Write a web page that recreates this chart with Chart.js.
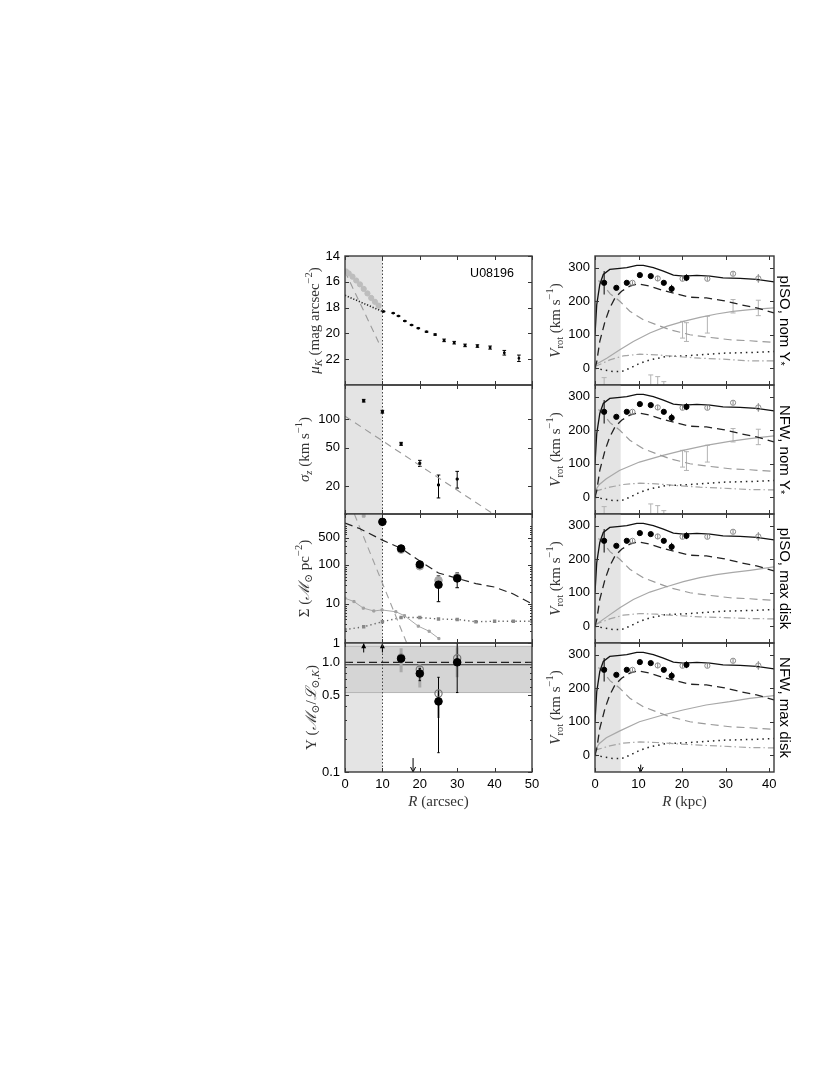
<!DOCTYPE html>
<html>
<head>
<meta charset="utf-8">
<script src="https://cdn.jsdelivr.net/npm/chart.js@4.4.0/dist/chart.umd.min.js"></script>
<style>
html, body { margin: 0; padding: 0; background: #fff; }
body { width: 830px; height: 1075px; position: relative; overflow: hidden; }
canvas { position: absolute; }
</style>
</head>
<body>
<canvas id="mu"></canvas>
<canvas id="sig"></canvas>
<canvas id="sd"></canvas>
<canvas id="ups"></canvas>
<canvas id="rotA"></canvas>
<canvas id="rotB"></canvas>
<canvas id="rotC"></canvas>
<canvas id="rotD"></canvas>
<script>
// ---- surface brightness (arcsec, mag/arcsec^2)
var muR = [10.3, 12.9, 14.3, 16.0, 17.8, 19.6, 21.8, 24.1, 26.5, 29.2, 32.1, 35.4, 38.8, 42.6, 46.5];
var mu = [18.3, 18.43, 18.65, 19.04, 19.35, 19.6, 19.87, 20.09, 20.54, 20.72, 20.93, 20.98, 21.1, 21.5, 21.93];
var muErr = [0.02, 0.02, 0.02, 0.03, 0.03, 0.03, 0.04, 0.05, 0.1, 0.1, 0.1, 0.1, 0.12, 0.18, 0.25];
var muInnerR = [0.3, 1, 2, 3, 4, 5, 6, 7, 8, 9];
var muInner = [15.2, 15.35, 15.6, 15.9, 16.2, 16.55, 16.9, 17.25, 17.55, 17.85];
var muDiskR = [0, 10];
var muDisk = [17.05, 18.3];
var muBulgeR = [0, 9];
var muBulge = [15.2, 20.7];

// ---- vertical velocity dispersion
var sigR = [5, 10, 15, 20, 25, 30];
var sig = [155, 119, 55, 34.5, 20.5, 23.6];
var sigLo = [150, 115, 53, 32, 15, 19];
var sigHi = [160, 123, 57, 37, 26, 28.4];
var sigFitR = [0, 40];
var sigFit = [107, 10];

// ---- mass surface density
var sdR = [10, 15, 20, 25, 30];
var sd = [1260, 262, 102, 31, 45];
var sdLo = [1180, 240, 88, 11.4, 26];
var sdHi = [1340, 290, 118, 52, 62];
var sdAltR = [15, 20, 25, 30];
var sdAlt = [245, 92, 40, 48];
var sdDiskR = [0, 4, 10, 15, 20, 25, 30, 35, 40, 45, 50];
var sdDisk = [1170, 840, 430, 265, 125, 62, 45, 33, 27, 18, 10];
var sdBulgeR = [2.5, 16.5];
var sdBulge = [2000, 1];
var sdStarR = [0, 2.4, 4.9, 7.7, 9.9, 13.6, 15.9, 19.6, 22.5, 25.1];
var sdStar = [14, 11.5, 7.8, 6.6, 7.0, 6.3, 5.0, 2.7, 2.0, 1.3];
var sdGasR = [0, 5, 10, 15, 20, 25, 30, 35, 40, 45, 50];
var sdGas = [2.2, 2.6, 3.5, 4.5, 4.5, 4.1, 4.0, 3.5, 3.6, 3.6, 3.6];
var sdTopR = [5];
var sdTop = [1800];

// ---- mass-to-light ratio
var upsR = [15, 20, 25, 30];
var ups = [1.08, 0.79, 0.44, 1.0];
var upsLo = [1.02, 0.68, 0.15, 0.53];
var upsHi = [1.14, 0.88, 0.73, 1.5];
var upsAlt = [1.1, 0.86, 0.52, 1.09];
var upsAltLo = [0.81, 0.59, 0.31, 0.73];
var upsAltHi = [1.34, 0.96, 0.55, 1.37];
var upsBand = [0.53, 1.4];
var upsNominal = 1.0;
var upsFit = 0.95;
var upsLimitR = [5, 10];
var upsLimitY = [1.23, 1.49];
var upsArrowR = 18.2;
var upsArrowY = [0.134, 0.1];

// ---- rotation curves (kpc, km/s)
var rcR = [2.1, 4.9, 7.3, 10.3, 12.8, 15.8, 17.6, 21.0];
var rcV = [255, 240, 255, 278, 275, 255, 237, 270];
var rcE = [35, 4, 4, 4, 4, 4, 12, 10];
var rcOpenR = [8.6, 14.4, 20.1, 25.8, 31.7, 37.5];
var rcOpenV = [255, 268, 267, 267, 282, 268];
var rcOpenE = [5, 8, 6, 6, 6, 13];
var haloPtR = [2.1, 12.8, 14.4, 15.8, 20.1, 21.0, 25.8, 31.7, 37.5];
var haloPtV = [-60, -60, -65, -70, 115, 108, 130, 185, 180];
var haloPtE = [32, 40, 40, 30, 25, 28, 25, 20, 23];
var totR = [0, 0.4, 1.1, 1.9, 3.4, 5.7, 7.3, 9.6, 11.1, 13.4, 15.7, 18, 20.3, 23.4, 26.4, 29.4, 33.3, 37.1, 41.1];
var totV = [100, 190, 250, 280, 295, 298, 300, 307, 307, 300, 290, 278, 275, 277, 275, 270, 268, 265, 258];
var diskR = [0, 0.4, 1.1, 2.3, 3.4, 4.6, 6.1, 8, 9.9, 12.6, 15.7, 18.7, 21.8, 25.6, 29.4, 33.3, 37.1, 41.1];
var diskV = [0, 20, 80, 140, 180, 210, 230, 245, 252, 245, 232, 222, 212, 210, 202, 190, 180, 165];
var bulgeR = [0.8, 2.1, 3.5, 5.7, 8, 11.1, 14.1, 17.2, 21.8, 26.4, 31, 35.6, 41.1];
var bulgeV = [262, 245, 222, 200, 170, 145, 130, 115, 100, 92, 85, 82, 77];
var gasR = [0, 1.9, 4.2, 6.1, 8, 10.3, 12.6, 16.4, 20.3, 24.1, 29.4, 35.6, 41.1];
var gasV = [0, -5, -10, -10, 0, 15, 25, 35, 37, 40, 45, 47, 50];
var ddR = [0, 3.4, 6.5, 10.3, 14.1, 18.7, 24.1, 29.4, 35.6, 41.1];
var ddA = [5, 25, 37, 42, 40, 35, 30, 27, 22, 22];
var ddB = [18, 30, 38, 42, 40, 35, 30, 27, 23, 22];
var ddC = [5, 22, 33, 38, 36, 32, 28, 26, 23, 22];
var ddD = [15, 28, 36, 40, 38, 34, 30, 27, 23, 22];
var isoR = [0, 2.7, 5.7, 8.8, 12.6, 16.4, 20.3, 24.1, 27.9, 31.7, 35.6, 41.1];
var isoA = [10, 30, 55, 80, 105, 125, 140, 152, 162, 170, 175, 180];
var isoC = [3, 28, 55, 80, 102, 118, 133, 145, 154, 161, 167, 177];
var nfwR = [0, 1, 2.6, 5.6, 10.2, 15.6, 20.2, 25.5, 30.9, 35.5, 41.1];
var nfwB = [18, 38, 55, 80, 105, 125, 140, 155, 167, 175, 183];
var nfwD = [15, 35, 52, 72, 100, 120, 135, 150, 160, 170, 178];
var rotArrowR = 10.5;
var rotArrowY = [-28, -50];

// ---- ticks
var xTicksArcsec = [0, 10, 20, 30, 40, 50];
var xTicksKpc = [0, 10, 20, 30, 40];
var muTicks = [14, 16, 18, 20, 22];
var sigTicks = [20, 50, 100];
var sdTicks = [1, 10, 100, 500];
var sdMinor = [2, 3, 4, 5, 6, 7, 8, 9, 20, 30, 40, 50, 60, 70, 80, 90, 200, 300, 400, 600, 700, 800, 900, 1000, 2000];
var upsTicks = [0.1, 0.5, 1.0];
var upsLabels = ['0.1', '0.5', '1.0'];
var upsMinor = [0.2, 0.3, 0.4, 0.6, 0.7, 0.8, 0.9];
var vTicks = [0, 100, 200, 300];

var SANS = '"Liberation Sans", Arial, sans-serif';
var SERIF = '"Liberation Serif", "DejaVu Serif", serif';
var SHADE = '#e4e4e4';

function zip(xs, ys) {
    return xs.map(function (x, i) { return { x: x, y: ys[i] }; });
}

function line(xs, ys, color, width, dash) {
    return { data: zip(xs, ys), showLine: true, borderColor: color, borderWidth: width,
        borderDash: dash || [], pointRadius: 0, fill: false, tension: 0 };
}

function pts(xs, ys, style, r, fill, stroke, bw) {
    return { data: zip(xs, ys), showLine: false, pointStyle: style, pointRadius: r,
        backgroundColor: fill, borderColor: stroke, borderWidth: bw || 1 };
}

// text with sub/superscripts, centred on (x, y)
function drawRich(ctx, segs, x, y, rot, size, family, color) {
    ctx.save();
    ctx.translate(x, y);
    ctx.rotate(rot);
    ctx.fillStyle = color;
    ctx.textBaseline = 'middle';
    ctx.textAlign = 'left';
    var parts = segs.map(function (s) {
        var fs = (s.sub || s.sup) ? size * 0.7 : size;
        var font = (s.it ? 'italic ' : '') + fs + 'px ' + family;
        ctx.font = font;
        return { t: s.t, font: font, w: ctx.measureText(s.t).width,
            dy: s.sub ? size * 0.3 : (s.sup ? -size * 0.38 : 0) };
    });
    var total = parts.reduce(function (a, p) { return a + p.w; }, 0);
    var cx = -total / 2;
    parts.forEach(function (p) {
        ctx.font = p.font;
        ctx.fillText(p.t, cx, p.dy);
        cx += p.w;
    });
    ctx.restore();
}

function makeDeco(d) {
    return {
        id: 'deco',
        beforeDatasetsDraw: function (chart) {
            var ctx = chart.ctx, a = chart.chartArea, xs = chart.scales.x, ys = chart.scales.y;
            ctx.save();
            ctx.beginPath();
            ctx.rect(a.left, a.top, a.width, a.height);
            ctx.clip();
            (d.xBands || []).forEach(function (b) {
                var x1 = xs.getPixelForValue(b[0]), x2 = xs.getPixelForValue(b[1]);
                ctx.fillStyle = b[2];
                ctx.fillRect(x1, a.top, x2 - x1, a.height);
            });
            (d.yBands || []).forEach(function (b) {
                var y1 = ys.getPixelForValue(b[0]), y2 = ys.getPixelForValue(b[1]);
                ctx.fillStyle = b[2];
                ctx.fillRect(a.left, Math.min(y1, y2), a.width, Math.abs(y2 - y1));
                ctx.strokeStyle = '#b5b5b5';
                ctx.lineWidth = 1;
                ctx.beginPath();
                ctx.moveTo(a.left, y1); ctx.lineTo(a.right, y1);
                ctx.moveTo(a.left, y2); ctx.lineTo(a.right, y2);
                ctx.stroke();
            });
            (d.vLines || []).forEach(function (l) {
                var x = Math.round(xs.getPixelForValue(l.x)) + 0.5;
                ctx.strokeStyle = l.color; ctx.lineWidth = l.width; ctx.setLineDash(l.dash || []);
                ctx.beginPath(); ctx.moveTo(x, a.top); ctx.lineTo(x, a.bottom); ctx.stroke();
            });
            (d.hLines || []).forEach(function (l) {
                var y = ys.getPixelForValue(l.y);
                ctx.strokeStyle = l.color; ctx.lineWidth = l.width; ctx.setLineDash(l.dash || []);
                ctx.beginPath(); ctx.moveTo(a.left, y); ctx.lineTo(a.right, y); ctx.stroke();
            });
            ctx.setLineDash([]);
            (d.errors || []).forEach(function (e) {
                ctx.strokeStyle = e.color;
                ctx.lineWidth = e.width;
                ctx.beginPath();
                e.x.forEach(function (xv, i) {
                    var lo = e.lo ? e.lo[i] : e.y[i] - e.err[i];
                    var hi = e.hi ? e.hi[i] : e.y[i] + e.err[i];
                    var x = xs.getPixelForValue(xv), y1 = ys.getPixelForValue(lo), y2 = ys.getPixelForValue(hi);
                    ctx.moveTo(x, y1); ctx.lineTo(x, y2);
                    if (e.cap) {
                        ctx.moveTo(x - e.cap, y1); ctx.lineTo(x + e.cap, y1);
                        ctx.moveTo(x - e.cap, y2); ctx.lineTo(x + e.cap, y2);
                    }
                });
                ctx.stroke();
            });
            ctx.restore();
        },
        afterDatasetsDraw: function (chart) {
            var ctx = chart.ctx, a = chart.chartArea, xs = chart.scales.x, ys = chart.scales.y;
            ctx.save();
            // arrows
            (d.arrows || []).forEach(function (ar) {
                var x = xs.getPixelForValue(ar.x), y1 = ys.getPixelForValue(ar.from), y2 = ys.getPixelForValue(ar.to);
                var dir = y2 > y1 ? 1 : -1;
                ctx.strokeStyle = '#000'; ctx.fillStyle = '#000'; ctx.lineWidth = 1;
                ctx.beginPath(); ctx.moveTo(x, y1); ctx.lineTo(x, y2); ctx.stroke();
                ctx.beginPath();
                ctx.moveTo(x - 2.5, y2 - dir * 5);
                ctx.lineTo(x, y2);
                ctx.lineTo(x + 2.5, y2 - dir * 5);
                if (ar.fill) { ctx.closePath(); ctx.fill(); } else { ctx.stroke(); }
            });
            // inward ticks on all sides
            ctx.strokeStyle = '#333';
            ctx.lineWidth = 1;
            ctx.beginPath();
            function xt(v, len) {
                var x = Math.round(xs.getPixelForValue(v)) + 0.5;
                ctx.moveTo(x, a.bottom); ctx.lineTo(x, a.bottom - len);
                ctx.moveTo(x, a.top); ctx.lineTo(x, a.top + len);
            }
            function yt(v, len) {
                var y = Math.round(ys.getPixelForValue(v)) + 0.5;
                ctx.moveTo(a.left, y); ctx.lineTo(a.left + len, y);
                ctx.moveTo(a.right, y); ctx.lineTo(a.right - len, y);
            }
            d.xTicks.forEach(function (v) { xt(v, 4); });
            d.yTicks.forEach(function (v) { yt(v, 4); });
            (d.yMinor || []).forEach(function (v) { yt(v, 2); });
            ctx.stroke();
            // frame
            ctx.strokeStyle = '#3a3a3a';
            ctx.lineWidth = 1.4;
            ctx.strokeRect(a.left, a.top, a.width, a.height);
            // titles
            if (d.yTitle) {
                drawRich(ctx, d.yTitle, a.left - d.yTitleOff, (a.top + a.bottom) / 2, -Math.PI / 2, 15, SERIF, '#333');
            }
            if (d.xTitle) {
                drawRich(ctx, d.xTitle, (a.left + a.right) / 2, a.bottom + 30, 0, 15, SERIF, '#333');
            }
            if (d.side) {
                drawRich(ctx, d.side, a.right + 10, (a.top + a.bottom) / 2, Math.PI / 2, 15, SANS, '#000');
            }
            if (d.tag) {
                ctx.fillStyle = '#000';
                ctx.font = '12.5px ' + SANS;
                ctx.textAlign = 'center';
                ctx.textBaseline = 'middle';
                ctx.fillText(d.tag, a.left + 147, a.top + 18);
            }
            ctx.restore();
        }
    };
}

function axis(type, min, max, ticks, labels, show, width, height, reverse) {
    return {
        type: type, min: min, max: max, reverse: !!reverse,
        grid: { display: false, drawTicks: false },
        border: { display: false },
        afterBuildTicks: function (s) { s.ticks = ticks.map(function (v) { return { value: v }; }); },
        afterFit: function (s) {
            if (width !== null) s.width = width;
            if (height !== null) s.height = height;
        },
        ticks: {
            display: show, autoSkip: false, maxRotation: 0, minRotation: 0, padding: 5, color: '#000',
            font: { family: SANS, size: 13 },
            callback: function (v, i) { return labels[i]; }
        }
    };
}

var YW = 80, PT = 16, PR = 32;

function makePanel(id, box, xSpec, ySpec, datasets, deco) {
    var XH = deco.xTitle ? 46 : 16;
    var c = document.getElementById(id);
    c.width = YW + box.w + PR;
    c.height = PT + box.h + XH;
    c.style.left = (box.x - YW) + 'px';
    c.style.top = (box.y - PT) + 'px';
    new Chart(c.getContext('2d'), {
        type: 'scatter',
        data: { datasets: datasets },
        options: {
            responsive: false,
            animation: false,
            devicePixelRatio: 1,
            events: [],
            layout: { padding: { top: PT, right: PR, left: 0, bottom: 0 } },
            plugins: { legend: { display: false }, tooltip: { enabled: false } },
            scales: {
                x: axis('linear', xSpec.min, xSpec.max, xSpec.ticks, xSpec.ticks.map(String), !!deco.xTitle, null, XH),
                y: axis(ySpec.type, ySpec.min, ySpec.max, ySpec.ticks, ySpec.labels, true, YW, null, ySpec.reverse)
            }
        },
        plugins: [makeDeco(deco)]
    });
}

var LX = 345, LW = 187, RX = 595, RW = 179;
var rowY = [256, 385, 514, 643], RH = 129;
var xArc = { min: 0, max: 50, ticks: xTicksArcsec };
var xKpc = { min: 0, max: 41.1, ticks: xTicksKpc };
var leftShade = [0, 10, SHADE];
var leftVLine = { x: 10, color: '#444', width: 1, dash: [1.5, 2] };

// panel 1: surface brightness
makePanel('mu', { x: LX, y: rowY[0], w: LW, h: RH }, xArc,
    { type: 'linear', min: 14, max: 24, ticks: muTicks, labels: muTicks.map(String), reverse: true },
    [
        pts(muR, mu, 'rect', 1.1, '#000', '#000'),
        pts(muInnerR, muInner, 'circle', 2.6, '#bdbdbd', '#bdbdbd'),
        line(muDiskR, muDisk, '#222', 1.6, [1.2, 1.8]),
        line(muBulgeR, muBulge, '#9a9a9a', 1.1, [7, 5])
    ],
    {
        xBands: [leftShade], vLines: [leftVLine], xTicks: xTicksArcsec, yTicks: muTicks,
        errors: [{ x: muR, y: mu, err: muErr, color: '#000', width: 1, cap: 1.8 }],
        yTitle: [{ t: 'μ', it: 1 }, { t: 'K', it: 1, sub: 1 }, { t: ' (mag arcsec' }, { t: '−2', sup: 1 }, { t: ')' }],
        yTitleOff: 30, tag: 'U08196'
    });

// panel 2: velocity dispersion
makePanel('sig', { x: LX, y: rowY[1], w: LW, h: RH }, xArc,
    { type: 'logarithmic', min: 10.2, max: 226, ticks: sigTicks, labels: sigTicks.map(String) },
    [
        pts(sigR, sig, 'rect', 1.4, '#000', '#000'),
        line(sigFitR, sigFit, '#9a9a9a', 1.1, [7, 5])
    ],
    {
        xBands: [leftShade], vLines: [leftVLine], xTicks: xTicksArcsec, yTicks: sigTicks,
        errors: [{ x: sigR, lo: sigLo, hi: sigHi, color: '#000', width: 1, cap: 1.8 }],
        yTitle: [{ t: 'σ', it: 1 }, { t: 'z', it: 1, sub: 1 }, { t: ' (km s' }, { t: '−1', sup: 1 }, { t: ')' }],
        yTitleOff: 40
    });

// panel 3: mass surface density
makePanel('sd', { x: LX, y: rowY[2], w: LW, h: RH }, xArc,
    { type: 'logarithmic', min: 1, max: 2000, ticks: sdTicks, labels: sdTicks.map(String) },
    [
        pts(sdR, sd, 'circle', 3.8, '#000', '#000'),
        pts(sdAltR, sdAlt, 'circle', 3.8, '#a8a8a8', '#a8a8a8'),
        line(sdDiskR, sdDisk, '#222', 1.2, [8, 5]),
        line(sdBulgeR, sdBulge, '#a0a0a0', 1.1, [7, 5]),
        Object.assign(line(sdStarR, sdStar, '#a8a8a8', 1), { pointRadius: 1.5, pointStyle: 'rect', pointBackgroundColor: '#a0a0a0', pointBorderColor: '#a0a0a0' }),
        Object.assign(line(sdGasR, sdGas, '#666', 1.4, [1.3, 3]), { pointRadius: 1.4, pointStyle: 'rect', pointBackgroundColor: '#888', pointBorderColor: '#888' }),
        pts(sdTopR, sdTop, 'rect', 2, '#a8a8a8', '#a8a8a8')
    ],
    {
        xBands: [leftShade], vLines: [leftVLine], xTicks: xTicksArcsec, yTicks: sdTicks, yMinor: sdMinor,
        errors: [{ x: sdR, lo: sdLo, hi: sdHi, color: '#000', width: 1, cap: 1.8 }],
        yTitle: [{ t: 'Σ (' }, { t: 'ℳ', it: 1 }, { t: '⊙', sub: 1 }, { t: ' pc' }, { t: '−2', sup: 1 }, { t: ')' }],
        yTitleOff: 40
    });

// panel 4: mass-to-light ratio
makePanel('ups', { x: LX, y: rowY[3], w: LW, h: RH }, xArc,
    { type: 'logarithmic', min: 0.1, max: 1.5, ticks: upsTicks, labels: upsLabels },
    [
        pts(upsR, ups, 'circle', 3.8, '#000', '#000'),
        pts(upsR, upsAlt, 'circle', 3.6, 'rgba(0,0,0,0)', '#777', 1.2)
    ],
    {
        xBands: [leftShade], yBands: [[upsBand[0], upsBand[1], '#d5d5d5']], vLines: [leftVLine],
        hLines: [
            { y: upsNominal, color: '#222', width: 1.3, dash: [8, 4] },
            { y: upsFit, color: '#333', width: 1.2 }
        ],
        xTicks: xTicksArcsec, yTicks: upsTicks, yMinor: upsMinor,
        errors: [
            { x: upsR, lo: upsAltLo, hi: upsAltHi, color: '#aaaaaa', width: 3, cap: 0 },
            { x: upsR, lo: upsLo, hi: upsHi, color: '#000', width: 1, cap: 1.2 }
        ],
        arrows: [
            { x: upsLimitR[0], from: upsLimitY[0], to: upsLimitY[1], fill: true },
            { x: upsLimitR[1], from: upsLimitY[0], to: upsLimitY[1], fill: true },
            { x: upsArrowR, from: upsArrowY[0], to: upsArrowY[1], fill: false }
        ],
        yTitle: [{ t: 'Υ (' }, { t: 'ℳ', it: 1 }, { t: '⊙', sub: 1 }, { t: '/' }, { t: 'ℒ', it: 1 }, { t: '⊙,', sub: 1 }, { t: 'K', it: 1, sub: 1 }, { t: ')' }],
        yTitleOff: 33,
        xTitle: [{ t: 'R', it: 1 }, { t: ' (arcsec)' }]
    });

// right column: rotation curves
function rotSets(haloR, haloV, ddV) {
    return [
        pts(rcR, rcV, 'circle', 2.6, '#000', '#000'),
        pts(rcOpenR, rcOpenV, 'circle', 2.6, 'rgba(0,0,0,0)', '#8a8a8a', 1),
        line(totR, totV, '#111', 1.3),
        line(diskR, diskV, '#222', 1.3, [8, 5]),
        line(bulgeR, bulgeV, '#9a9a9a', 1.2, [8, 5]),
        line(haloR, haloV, '#a8a8a8', 1.2),
        line(ddR, ddV, '#a5a5a5', 1.2, [7, 3, 1.5, 3]),
        line(gasR, gasV, '#222', 1.5, [1.5, 4])
    ];
}

function rotDeco(side, withHaloPts, arrow, last) {
    var errs = [
        { x: rcR, y: rcV, err: rcE, color: '#000', width: 1, cap: 0 },
        { x: rcOpenR, y: rcOpenV, err: rcOpenE, color: '#888', width: 1, cap: 0 }
    ];
    if (withHaloPts) errs.unshift({ x: haloPtR, y: haloPtV, err: haloPtE, color: '#b3b3b3', width: 1, cap: 2.5 });
    var d = {
        xBands: [[0, 5.9, SHADE]], xTicks: xTicksKpc, yTicks: vTicks, errors: errs, side: side,
        yTitle: [{ t: 'V', it: 1 }, { t: 'rot', sub: 1 }, { t: ' (km s' }, { t: '−1', sup: 1 }, { t: ')' }],
        yTitleOff: 39
    };
    if (arrow) d.arrows = [{ x: rotArrowR, from: rotArrowY[0], to: rotArrowY[1], fill: false }];
    if (last) d.xTitle = [{ t: 'R', it: 1 }, { t: ' (kpc)' }];
    return d;
}

var vSpec = { type: 'linear', min: -50, max: 335, ticks: vTicks, labels: vTicks.map(String) };
var starSub = { t: '*', sub: 1 };

makePanel('rotA', { x: RX, y: rowY[0], w: RW, h: RH }, xKpc, vSpec, rotSets(isoR, isoA, ddA),
    rotDeco([{ t: 'pISO, nom Υ' }, starSub], true, false, false));
makePanel('rotB', { x: RX, y: rowY[1], w: RW, h: RH }, xKpc, vSpec, rotSets(nfwR, nfwB, ddB),
    rotDeco([{ t: 'NFW, nom Υ' }, starSub], true, false, false));
makePanel('rotC', { x: RX, y: rowY[2], w: RW, h: RH }, xKpc, vSpec, rotSets(isoR, isoC, ddC),
    rotDeco([{ t: 'pISO, max disk' }], false, false, false));
makePanel('rotD', { x: RX, y: rowY[3], w: RW, h: RH }, xKpc, vSpec, rotSets(nfwR, nfwD, ddD),
    rotDeco([{ t: 'NFW, max disk' }], false, true, true));
</script>
</body>
</html>
